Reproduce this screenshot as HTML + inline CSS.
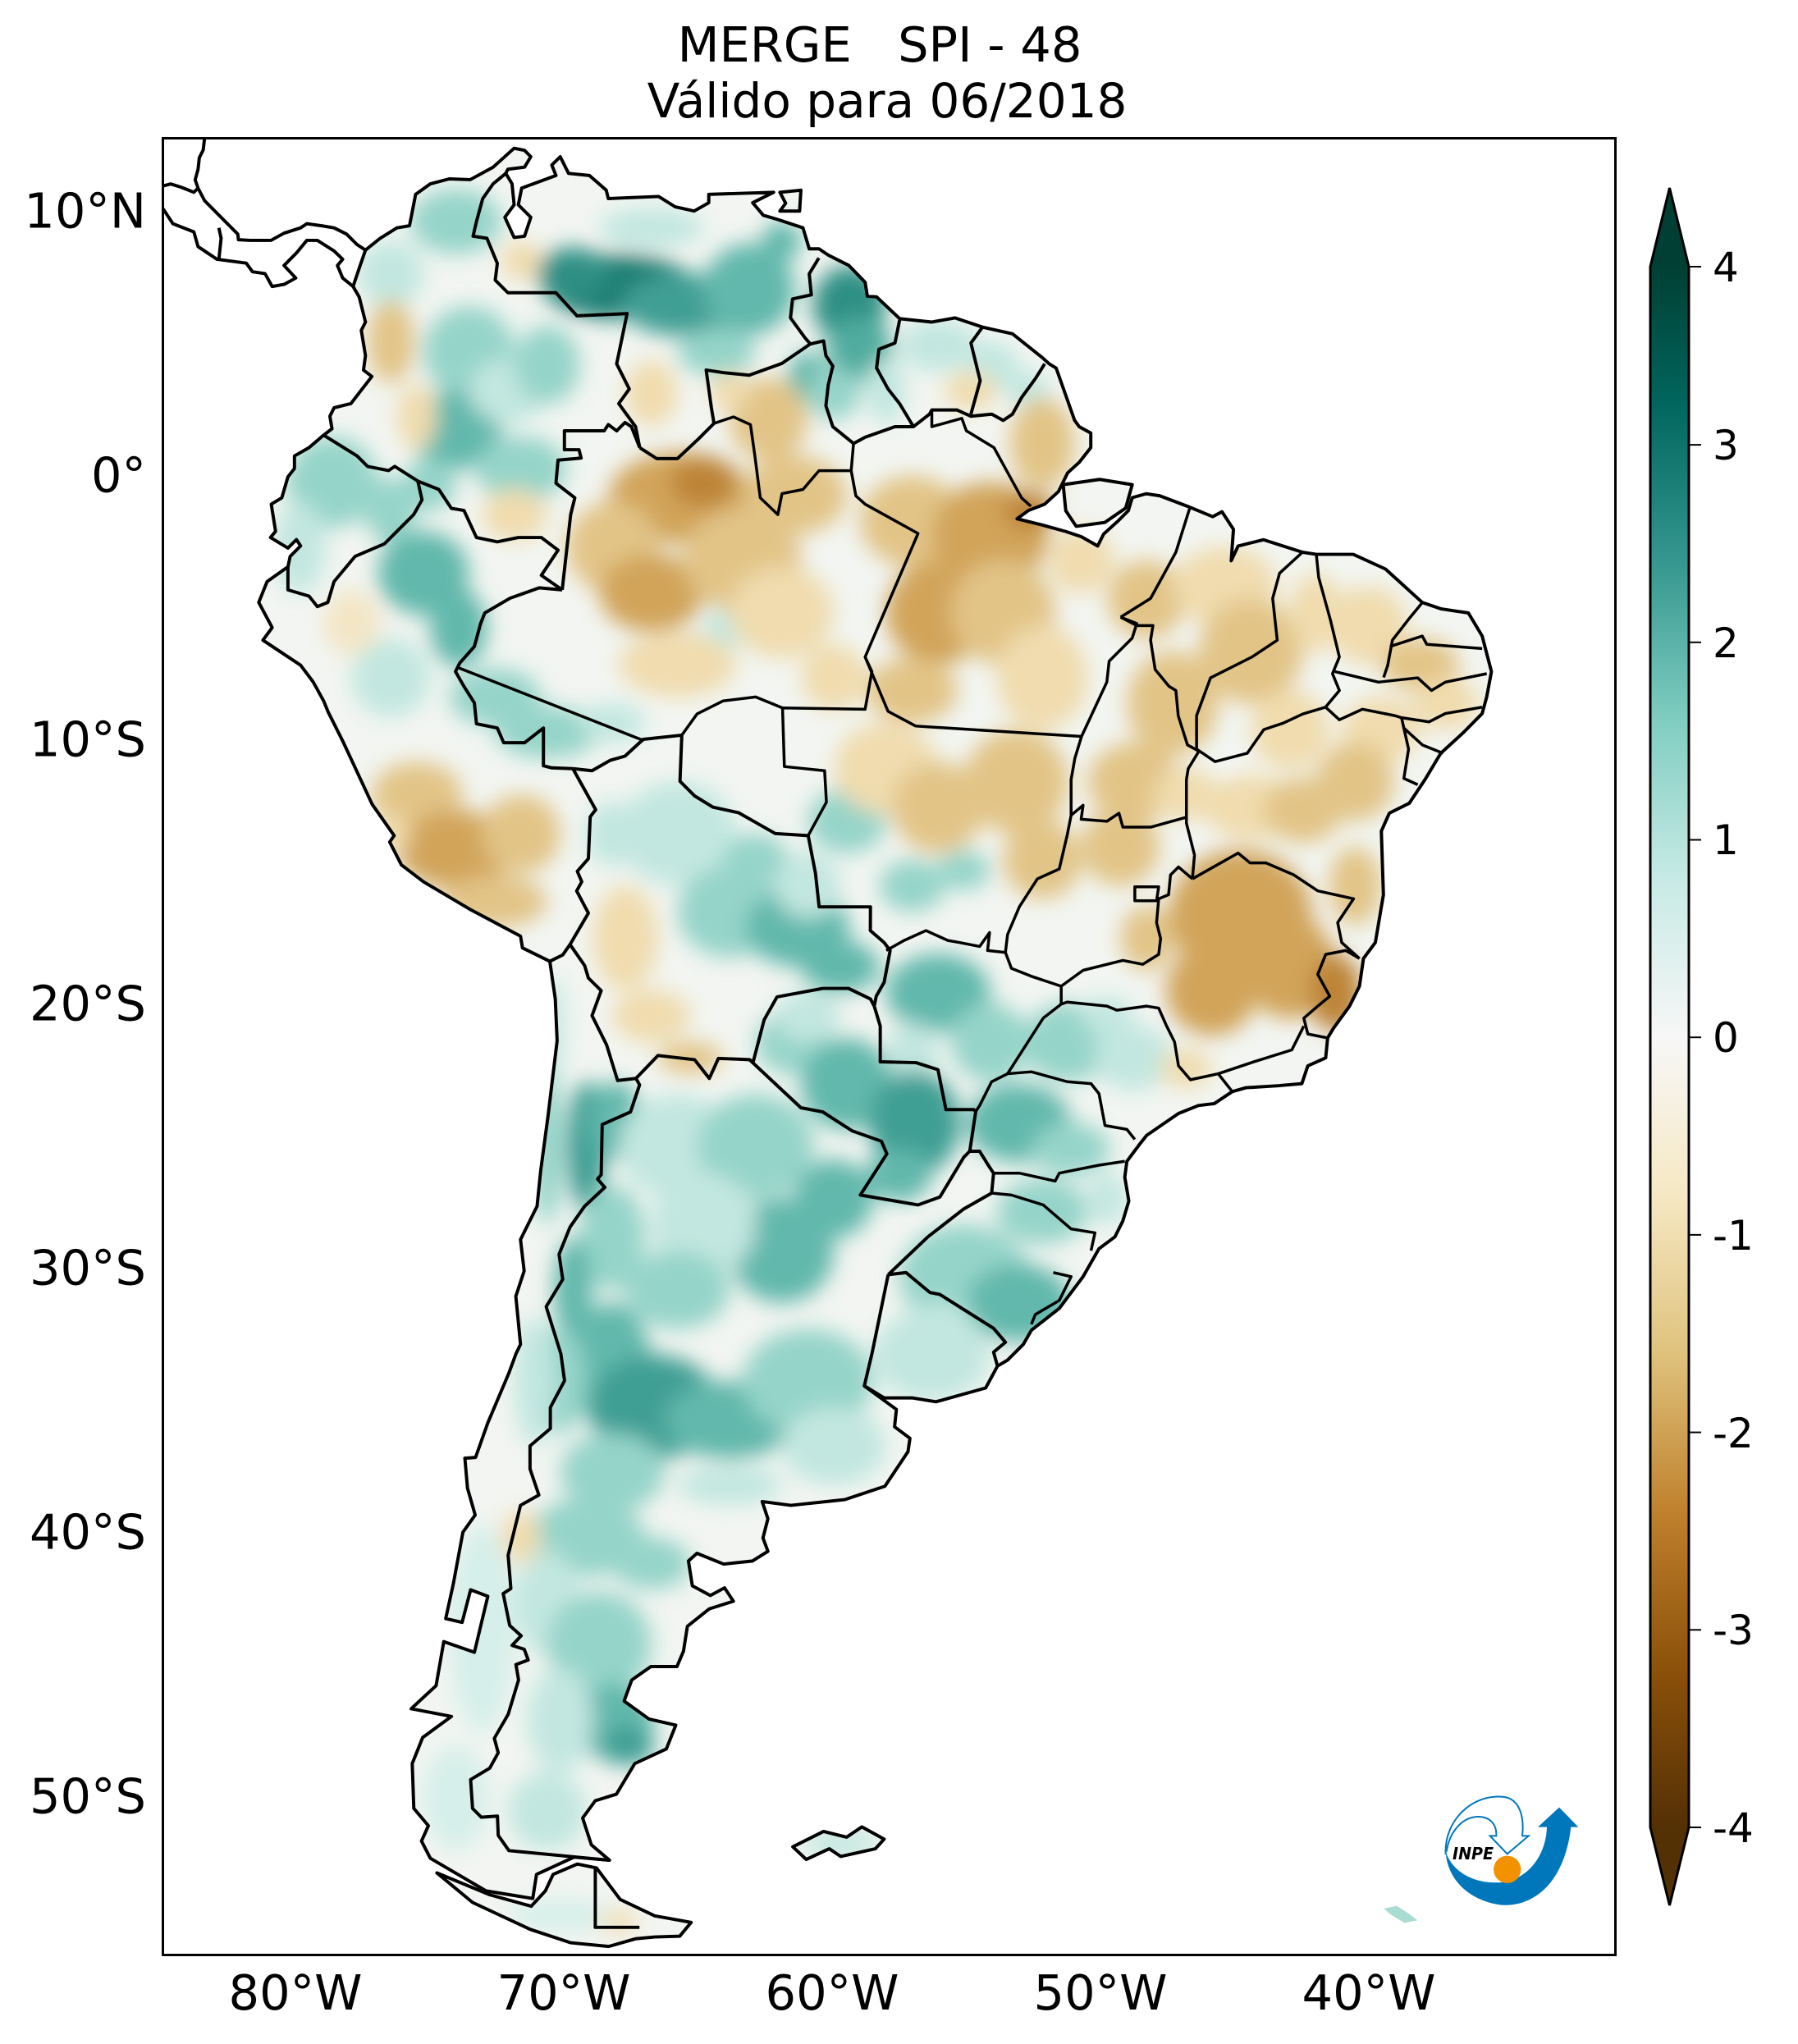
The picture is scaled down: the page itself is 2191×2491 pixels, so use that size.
<!DOCTYPE html>
<html><head><meta charset="utf-8"><style>
html,body{margin:0;padding:0;background:#fff;}
svg{display:block;}
text{font-family:"DejaVu Sans","Liberation Sans",sans-serif;fill:#000;white-space:pre;}
</style></head><body>
<svg width="2191" height="2491" viewBox="0 0 2191 2491" xmlns="http://www.w3.org/2000/svg">
<rect x="0" y="0" width="2191" height="2491" fill="#fff"/>
<defs>
<clipPath id="land"><path d="M280.5,192 L291.8,182.9 304.6,174.9 314.3,173.3 319,149.2 330.3,141.1 344.8,137.3 360.9,137.9 378.5,128.3 394.6,113.8 402.6,115.4 407.4,120.3 402.6,128.3 389.8,129.9 388.2,133.1 393,141.1 394.6,157.2 387.5,166.8 394.6,182.3 402.6,181.3 407.4,166.8 397.8,157.2 400.4,144.4 426.7,134.7 423.5,126.7 430,120.3 436.4,133.1 452.4,134.7 465.3,146 466.9,152.4 505.5,150.8 518.3,158.8 532.8,162 544,155.6 544,149.2 593.8,147.6 577.7,155.6 585.8,165.2 597,168.5 616.3,174.9 621.1,191 628.6,191 635.7,195.8 651.6,203.8 664,216.7 665.7,227.3 672.8,227.9 690.5,244.6 715.2,247.2 732.9,244 754.1,251.1 777.1,256.2 800,274.5 805.3,279.3 810.6,282.5 824.8,322.7 828.3,327.5 837.2,332.4 837.2,343.6 828.3,354.9 819.5,362.9 812.4,377.3 801.8,387 789.4,391.8 780.6,398.2 800,403 818,408 830,412 842.5,419.1 847,410 858,400 866,392 869,382 879.6,379 890.2,380.6 911.4,388.6 930.8,396.6 937.9,392.8 946.7,406.3 945,430.4 950.3,419.1 969.7,414.3 999.7,423.9 1010.3,425.5 1038.6,425.5 1063.4,436.8 1091.7,462.5 1105.8,467.3 1127,470.5 1137.6,488.2 1144.7,515.5 1141.1,534.8 1137.6,547.7 1123.5,562 1105.8,578.2 1093.8,598.3 1081.6,616.6 1066.3,624.2 1060.2,638 1061.8,686.8 1055.6,723.5 1046.5,735.7 1043.4,757 1035.8,772.3 1023.6,789.1 1019,796.7 1017.5,812 1003.8,818.1 999.2,831.8 980.9,833.4 956.4,834.9 945.8,837.9 932,847.1 919.8,848.6 904.5,854.7 880.1,871.5 874,879.2 864.9,891.4 863.3,903.6 866.4,921.9 861.8,937.2 855.7,949.4 843.5,958.5 831.3,979.9 813,1004.3 791.6,1021.1 785.5,1031.8 773.3,1044 765.6,1048.6 756.5,1065.4 718.3,1076 700,1073 678.6,1073 663.4,1063.8 688,1081.9 686.6,1095.2 698.4,1104 696.9,1114.3 679.2,1140.8 648.3,1151.1 607.1,1155.5 585,1152.6 589.4,1165.8 585.6,1180.5 589.4,1190.8 577.6,1198.2 555.5,1200.6 534.9,1192.3 528.4,1198.2 531.4,1217.3 545.2,1224.7 556.1,1218.8 562.9,1229.1 544.3,1235 527.6,1248.3 524.6,1267.4 519.6,1279.2 499.6,1279.2 484.9,1289.5 479,1305.7 498.1,1319.5 518.7,1324.2 511.4,1342.5 487.2,1353.7 473.1,1377.2 456.9,1382.2 447.2,1395.5 453.9,1416.1 467.8,1427.9 440.7,1425.5 411.8,1438.8 408.9,1457.3 373,1451.4 330.3,1426.4 323.5,1413.2 328.8,1401.4 317.6,1388.1 316.4,1353.7 324.4,1333.7 346.5,1317.5 315.6,1311.6 334.7,1293.9 340.6,1260.1 364.1,1268.3 374.4,1225.3 361.2,1220.3 354.7,1245.3 342.1,1242.4 347.9,1215.9 355.3,1176.1 364.7,1162.9 358.8,1142.3 356.8,1119.3 365,1118.7 374.4,1092.2 390.6,1053.9 396,1039.2 399.5,1031.9 395.9,995 402.3,975.6 399.5,951.5 412.2,925.9 415,898.5 420.6,856.8 427.6,798.9 426.2,766.8 422,737.9 401,727.6 399.5,718.6 360.2,697.7 325,676.8 308.1,663.9 299.1,646.3 302.5,641.4 285.6,617.3 262.9,568.5 251.9,546.6 248.4,538 240.4,523.5 230.7,510.6 201.8,491.4 208.9,481.7 198.6,462.4 205,446.4 221,435.1 222.7,427.1 230.7,419 227.5,414.2 221,420.7 207.6,412.6 211.5,407.8 208.2,387 216.3,382.1 221,366 226,359.6 226,350 237.2,343.6 248.4,334 254.8,329.1 253.2,319.5 256.4,313 269.3,309.8 285.4,289 279,284.1 280.5,272.9 277.3,253.6 280.5,247.2 275.7,228 271,219.9 276,205 Z M816,372 L844,368 869,372 864,390 848,401 826,404 818,392 Z M335.3,1437.6 L362.7,1460.3 406.8,1480.9 437.8,1491.2 467.2,1494.1 487.8,1488.2 502.5,1486.8 521.7,1486.2 530.5,1475.6 502.5,1470.6 476,1458 457.8,1433.8 443.1,1430.8 424.5,1438.8 418.6,1451.4 407.7,1463.2 375.9,1454.4 Z M608.5,1417.6 L632.1,1405.8 649.8,1410.2 661.5,1402.3 678.6,1411.7 671.9,1419.1 645.3,1425 636.5,1419.1 618.8,1427.3 Z M598.6,147.6 L614.7,146 613.7,162 598.6,162 603,156 Z"/></clipPath>
<filter id="bl" x="-20%" y="-20%" width="140%" height="140%"><feGaussianBlur stdDeviation="8"/></filter>
<linearGradient id="cb" x1="0" y1="0" x2="0" y2="1">
<stop offset="0" stop-color="#013f33"/>
<stop offset="0.0886" stop-color="#01665e"/>
<stop offset="0.19" stop-color="#35978f"/>
<stop offset="0.291" stop-color="#80cdc1"/>
<stop offset="0.392" stop-color="#c7eae5"/>
<stop offset="0.4937" stop-color="#f7f7f7"/>
<stop offset="0.595" stop-color="#f6e8c3"/>
<stop offset="0.696" stop-color="#dfc27d"/>
<stop offset="0.797" stop-color="#bf812d"/>
<stop offset="0.899" stop-color="#8c510a"/>
<stop offset="1" stop-color="#543005"/>
</linearGradient>
</defs>

<!-- title -->
<text x="1072" y="75" font-size="59" text-anchor="middle">MERGE   SPI - 48</text>
<text x="1081" y="143" font-size="58" text-anchor="middle">Válido para 06/2018</text>

<g transform="scale(1.58768)">
 <g clip-path="url(#land)">
  <rect x="100" y="90" width="1100" height="1420" fill="#f2f5f1"/>
  <g filter="url(#bl)">
   <!-- teal -->
   <ellipse cx="350" cy="170" rx="35" ry="25" fill="#95d4c9"/>
   <ellipse cx="300" cy="210" rx="25" ry="25" fill="#c2e7e0"/>
   <ellipse cx="475" cy="220" rx="58" ry="25" fill="#1b7e73"/>
   <ellipse cx="440" cy="210" rx="28" ry="20" fill="#2f8f84"/>
   <ellipse cx="525" cy="234" rx="48" ry="24" fill="#3f9f94"/>
   <ellipse cx="575" cy="222" rx="35" ry="35" fill="#62b8ac"/>
   <ellipse cx="600" cy="185" rx="15" ry="15" fill="#62b8ac"/>
   <ellipse cx="500" cy="175" rx="40" ry="15" fill="#c2e7e0"/>
   <ellipse cx="550" cy="270" rx="30" ry="18" fill="#95d4c9"/>
   <ellipse cx="360" cy="270" rx="35" ry="35" fill="#95d4c9"/>
   <ellipse cx="350" cy="330" rx="35" ry="30" fill="#62b8ac"/>
   <ellipse cx="390" cy="300" rx="30" ry="25" fill="#c2e7e0"/>
   <ellipse cx="420" cy="280" rx="25" ry="30" fill="#95d4c9"/>
   <ellipse cx="400" cy="360" rx="35" ry="25" fill="#95d4c9"/>
   <ellipse cx="330" cy="372" rx="20" ry="20" fill="#95d4c9"/>
   <ellipse cx="255" cy="370" rx="35" ry="35" fill="#95d4c9"/>
   <ellipse cx="230" cy="420" rx="20" ry="35" fill="#c2e7e0"/>
   <ellipse cx="300" cy="392" rx="20" ry="25" fill="#95d4c9"/>
   <ellipse cx="325" cy="440" rx="35" ry="32" fill="#62b8ac"/>
   <ellipse cx="352" cy="482" rx="22" ry="30" fill="#62b8ac"/>
   <ellipse cx="300" cy="520" rx="30" ry="30" fill="#c2e7e0"/>
   <ellipse cx="380" cy="535" rx="35" ry="22" fill="#95d4c9"/>
   <ellipse cx="420" cy="562" rx="40" ry="20" fill="#95d4c9"/>
   <ellipse cx="470" cy="555" rx="25" ry="15" fill="#c2e7e0"/>
   <ellipse cx="620" cy="290" rx="15" ry="20" fill="#62b8ac"/>
   <ellipse cx="652" cy="234" rx="28" ry="30" fill="#2f8f84"/>
   <ellipse cx="660" cy="268" rx="25" ry="25" fill="#4fac9f"/>
   <ellipse cx="640" cy="302" rx="20" ry="20" fill="#95d4c9"/>
   <ellipse cx="680" cy="300" rx="15" ry="25" fill="#c2e7e0"/>
   <ellipse cx="720" cy="265" rx="30" ry="20" fill="#c2e7e0"/>
   <ellipse cx="762" cy="282" rx="20" ry="20" fill="#c2e7e0"/>
   <ellipse cx="790" cy="300" rx="15" ry="15" fill="#c2e7e0"/>
   <ellipse cx="560" cy="482" rx="20" ry="15" fill="#c2e7e0"/>
   <ellipse cx="520" cy="640" rx="45" ry="40" fill="#c2e7e0"/>
   <ellipse cx="560" cy="700" rx="40" ry="35" fill="#95d4c9"/>
   <ellipse cx="612" cy="712" rx="40" ry="30" fill="#62b8ac"/>
   <ellipse cx="645" cy="742" rx="30" ry="20" fill="#62b8ac"/>
   <ellipse cx="580" cy="660" rx="25" ry="20" fill="#95d4c9"/>
   <ellipse cx="470" cy="640" rx="20" ry="25" fill="#c2e7e0"/>
   <ellipse cx="650" cy="630" rx="30" ry="25" fill="#95d4c9"/>
   <ellipse cx="700" cy="680" rx="25" ry="20" fill="#95d4c9"/>
   <ellipse cx="740" cy="668" rx="20" ry="15" fill="#95d4c9"/>
   <ellipse cx="620" cy="680" rx="25" ry="25" fill="#c2e7e0"/>
   <ellipse cx="720" cy="762" rx="40" ry="30" fill="#62b8ac"/>
   <ellipse cx="760" cy="800" rx="30" ry="30" fill="#95d4c9"/>
   <ellipse cx="700" cy="810" rx="20" ry="25" fill="#c2e7e0"/>
   <ellipse cx="820" cy="800" rx="35" ry="30" fill="#95d4c9"/>
   <ellipse cx="870" cy="812" rx="30" ry="25" fill="#c2e7e0"/>
   <ellipse cx="850" cy="780" rx="20" ry="15" fill="#c2e7e0"/>
   <ellipse cx="610" cy="800" rx="30" ry="25" fill="#95d4c9"/>
   <ellipse cx="650" cy="832" rx="35" ry="35" fill="#62b8ac"/>
   <ellipse cx="702" cy="862" rx="35" ry="40" fill="#3f9f94"/>
   <ellipse cx="690" cy="902" rx="25" ry="20" fill="#62b8ac"/>
   <ellipse cx="620" cy="780" rx="25" ry="20" fill="#c2e7e0"/>
   <ellipse cx="782" cy="862" rx="40" ry="30" fill="#62b8ac"/>
   <ellipse cx="822" cy="882" rx="30" ry="20" fill="#95d4c9"/>
   <ellipse cx="800" cy="930" rx="35" ry="25" fill="#95d4c9"/>
   <ellipse cx="850" cy="920" rx="15" ry="20" fill="#c2e7e0"/>
   <ellipse cx="740" cy="980" rx="50" ry="40" fill="#95d4c9"/>
   <ellipse cx="782" cy="1000" rx="40" ry="30" fill="#62b8ac"/>
   <ellipse cx="720" cy="1020" rx="30" ry="20" fill="#c2e7e0"/>
   <ellipse cx="715" cy="1040" rx="45" ry="35" fill="#c2e7e0"/>
   <ellipse cx="450" cy="880" rx="15" ry="50" fill="#3f9f94"/>
   <ellipse cx="472" cy="860" rx="20" ry="30" fill="#62b8ac"/>
   <ellipse cx="520" cy="880" rx="45" ry="40" fill="#c2e7e0"/>
   <ellipse cx="580" cy="880" rx="45" ry="40" fill="#95d4c9"/>
   <ellipse cx="640" cy="920" rx="30" ry="30" fill="#62b8ac"/>
   <ellipse cx="600" cy="960" rx="40" ry="40" fill="#62b8ac"/>
   <ellipse cx="540" cy="940" rx="40" ry="40" fill="#c2e7e0"/>
   <ellipse cx="520" cy="990" rx="40" ry="30" fill="#95d4c9"/>
   <ellipse cx="470" cy="950" rx="25" ry="40" fill="#95d4c9"/>
   <ellipse cx="440" cy="990" rx="15" ry="40" fill="#62b8ac"/>
   <ellipse cx="425" cy="790" rx="8" ry="40" fill="#c2e7e0"/>
   <ellipse cx="420" cy="880" rx="12" ry="60" fill="#95d4c9"/>
   <ellipse cx="470" cy="1050" rx="30" ry="50" fill="#62b8ac"/>
   <ellipse cx="502" cy="1080" rx="50" ry="40" fill="#3f9f94"/>
   <ellipse cx="560" cy="1090" rx="50" ry="30" fill="#62b8ac"/>
   <ellipse cx="620" cy="1060" rx="50" ry="40" fill="#95d4c9"/>
   <ellipse cx="640" cy="1110" rx="40" ry="30" fill="#c2e7e0"/>
   <ellipse cx="430" cy="1060" rx="20" ry="40" fill="#95d4c9"/>
   <ellipse cx="470" cy="1130" rx="40" ry="30" fill="#95d4c9"/>
   <ellipse cx="560" cy="1140" rx="40" ry="15" fill="#c2e7e0"/>
   <ellipse cx="410" cy="1060" rx="15" ry="50" fill="#c2e7e0"/>
   <ellipse cx="450" cy="1180" rx="45" ry="30" fill="#95d4c9"/>
   <ellipse cx="500" cy="1200" rx="30" ry="20" fill="#95d4c9"/>
   <ellipse cx="420" cy="1230" rx="25" ry="40" fill="#c2e7e0"/>
   <ellipse cx="460" cy="1262" rx="40" ry="40" fill="#95d4c9"/>
   <ellipse cx="472" cy="1322" rx="30" ry="30" fill="#62b8ac"/>
   <ellipse cx="482" cy="1340" rx="20" ry="15" fill="#3f9f94"/>
   <ellipse cx="430" cy="1320" rx="25" ry="40" fill="#c2e7e0"/>
   <ellipse cx="420" cy="1390" rx="30" ry="30" fill="#c2e7e0"/>
   <ellipse cx="370" cy="1250" rx="25" ry="80" fill="#d6efea"/>
   <ellipse cx="350" cy="1380" rx="25" ry="40" fill="#d6efea"/>
   <ellipse cx="430" cy="1470" rx="40" ry="12" fill="#d6efea"/>
   <ellipse cx="645" cy="1415" rx="30" ry="10" fill="#c2e7e0"/>
   <!-- brown -->
   <ellipse cx="500" cy="302" rx="20" ry="25" fill="#f0dcae"/>
   <ellipse cx="300" cy="262" rx="18" ry="32" fill="#e2c487"/>
   <ellipse cx="320" cy="320" rx="15" ry="25" fill="#f0dcae"/>
   <ellipse cx="395" cy="395" rx="25" ry="20" fill="#f0dcae"/>
   <ellipse cx="400" cy="200" rx="15" ry="15" fill="#f0dcae"/>
   <ellipse cx="270" cy="478" rx="22" ry="25" fill="#f3e6c6"/>
   <ellipse cx="320" cy="610" rx="35" ry="25" fill="#e2c487"/>
   <ellipse cx="350" cy="652" rx="45" ry="30" fill="#d1a45a"/>
   <ellipse cx="400" cy="640" rx="30" ry="30" fill="#e2c487"/>
   <ellipse cx="380" cy="692" rx="40" ry="20" fill="#e2c487"/>
   <ellipse cx="300" cy="640" rx="15" ry="15" fill="#f0dcae"/>
   <ellipse cx="522" cy="382" rx="55" ry="35" fill="#d1a45a"/>
   <ellipse cx="540" cy="370" rx="25" ry="20" fill="#bd8438"/>
   <ellipse cx="470" cy="420" rx="35" ry="35" fill="#e2c487"/>
   <ellipse cx="500" cy="455" rx="40" ry="30" fill="#d1a45a"/>
   <ellipse cx="570" cy="430" rx="45" ry="40" fill="#e2c487"/>
   <ellipse cx="610" cy="380" rx="40" ry="30" fill="#e2c487"/>
   <ellipse cx="600" cy="470" rx="40" ry="35" fill="#f0dcae"/>
   <ellipse cx="520" cy="510" rx="45" ry="25" fill="#f0dcae"/>
   <ellipse cx="640" cy="520" rx="25" ry="25" fill="#f0dcae"/>
   <ellipse cx="590" cy="322" rx="30" ry="32" fill="#e2c487"/>
   <ellipse cx="560" cy="300" rx="15" ry="15" fill="#f0dcae"/>
   <ellipse cx="745" cy="300" rx="20" ry="15" fill="#f0dcae"/>
   <ellipse cx="800" cy="340" rx="25" ry="35" fill="#e2c487"/>
   <ellipse cx="700" cy="400" rx="40" ry="35" fill="#e2c487"/>
   <ellipse cx="760" cy="410" rx="45" ry="40" fill="#d1a45a"/>
   <ellipse cx="790" cy="392" rx="20" ry="15" fill="#bd8438"/>
   <ellipse cx="720" cy="470" rx="40" ry="40" fill="#d1a45a"/>
   <ellipse cx="770" cy="470" rx="40" ry="40" fill="#e2c487"/>
   <ellipse cx="700" cy="530" rx="35" ry="25" fill="#e2c487"/>
   <ellipse cx="800" cy="520" rx="35" ry="40" fill="#f0dcae"/>
   <ellipse cx="830" cy="430" rx="25" ry="25" fill="#f0dcae"/>
   <ellipse cx="880" cy="460" rx="30" ry="30" fill="#e2c487"/>
   <ellipse cx="940" cy="450" rx="40" ry="30" fill="#f0dcae"/>
   <ellipse cx="960" cy="500" rx="40" ry="40" fill="#e2c487"/>
   <ellipse cx="900" cy="540" rx="35" ry="40" fill="#e2c487"/>
   <ellipse cx="870" cy="600" rx="35" ry="30" fill="#e2c487"/>
   <ellipse cx="990" cy="560" rx="30" ry="30" fill="#f0dcae"/>
   <ellipse cx="1010" cy="470" rx="20" ry="30" fill="#f0dcae"/>
   <ellipse cx="1050" cy="480" rx="30" ry="30" fill="#f0dcae"/>
   <ellipse cx="1090" cy="510" rx="30" ry="20" fill="#e2c487"/>
   <ellipse cx="1110" cy="540" rx="25" ry="20" fill="#f0dcae"/>
   <ellipse cx="1060" cy="560" rx="30" ry="25" fill="#f0dcae"/>
   <ellipse cx="1040" cy="600" rx="30" ry="30" fill="#e2c487"/>
   <ellipse cx="680" cy="590" rx="40" ry="35" fill="#f0dcae"/>
   <ellipse cx="720" cy="620" rx="35" ry="35" fill="#e2c487"/>
   <ellipse cx="780" cy="600" rx="40" ry="40" fill="#e2c487"/>
   <ellipse cx="800" cy="660" rx="30" ry="30" fill="#e2c487"/>
   <ellipse cx="480" cy="720" rx="25" ry="40" fill="#f0dcae"/>
   <ellipse cx="500" cy="780" rx="30" ry="20" fill="#f0dcae"/>
   <ellipse cx="530" cy="812" rx="25" ry="12" fill="#e2c487"/>
   <ellipse cx="860" cy="650" rx="30" ry="30" fill="#e2c487"/>
   <ellipse cx="952" cy="702" rx="55" ry="50" fill="#d1a45a"/>
   <ellipse cx="930" cy="760" rx="35" ry="35" fill="#d1a45a"/>
   <ellipse cx="990" cy="742" rx="35" ry="40" fill="#d1a45a"/>
   <ellipse cx="1025" cy="762" rx="20" ry="30" fill="#bd8438"/>
   <ellipse cx="1040" cy="680" rx="20" ry="30" fill="#e2c487"/>
   <ellipse cx="880" cy="720" rx="20" ry="25" fill="#e2c487"/>
   <ellipse cx="910" cy="610" rx="25" ry="20" fill="#f0dcae"/>
   <ellipse cx="960" cy="620" rx="35" ry="25" fill="#f0dcae"/>
   <ellipse cx="1000" cy="622" rx="30" ry="25" fill="#e2c487"/>
   <ellipse cx="910" cy="820" rx="20" ry="15" fill="#f0dcae"/>
   <ellipse cx="400" cy="1180" rx="15" ry="20" fill="#f0dcae"/>
   <ellipse cx="475" cy="1475" rx="15" ry="8" fill="#f0dcae"/>
  </g>
 </g>
 <!-- coastline & country borders -->
 <g fill="none" stroke="#000" stroke-width="2.5" stroke-linejoin="round">
  <path d="M280.5,192 L291.8,182.9 304.6,174.9 314.3,173.3 319,149.2 330.3,141.1 344.8,137.3 360.9,137.9 378.5,128.3 394.6,113.8 402.6,115.4 407.4,120.3 402.6,128.3 389.8,129.9 388.2,133.1 393,141.1 394.6,157.2 387.5,166.8 394.6,182.3 402.6,181.3 407.4,166.8 397.8,157.2 400.4,144.4 426.7,134.7 423.5,126.7 430,120.3 436.4,133.1 452.4,134.7 465.3,146 466.9,152.4 505.5,150.8 518.3,158.8 532.8,162 544,155.6 544,149.2 593.8,147.6 577.7,155.6 585.8,165.2 597,168.5 616.3,174.9 621.1,191 628.6,191 635.7,195.8 651.6,203.8 664,216.7 665.7,227.3 672.8,227.9 690.5,244.6 715.2,247.2 732.9,244 754.1,251.1 777.1,256.2 800,274.5 805.3,279.3 810.6,282.5 824.8,322.7 828.3,327.5 837.2,332.4 837.2,343.6 828.3,354.9 819.5,362.9 812.4,377.3 801.8,387 789.4,391.8 780.6,398.2 800,403 818,408 830,412 842.5,419.1 847,410 858,400 866,392 869,382 879.6,379 890.2,380.6 911.4,388.6 930.8,396.6 937.9,392.8 946.7,406.3 945,430.4 950.3,419.1 969.7,414.3 999.7,423.9 1010.3,425.5 1038.6,425.5 1063.4,436.8 1091.7,462.5 1105.8,467.3 1127,470.5 1137.6,488.2 1144.7,515.5 1141.1,534.8 1137.6,547.7 1123.5,562 1105.8,578.2 1093.8,598.3 1081.6,616.6 1066.3,624.2 1060.2,638 1061.8,686.8 1055.6,723.5 1046.5,735.7 1043.4,757 1035.8,772.3 1023.6,789.1 1019,796.7 1017.5,812 1003.8,818.1 999.2,831.8 980.9,833.4 956.4,834.9 945.8,837.9 932,847.1 919.8,848.6 904.5,854.7 880.1,871.5 874,879.2 864.9,891.4 863.3,903.6 866.4,921.9 861.8,937.2 855.7,949.4 843.5,958.5 831.3,979.9 813,1004.3 791.6,1021.1 785.5,1031.8 773.3,1044 765.6,1048.6 756.5,1065.4 718.3,1076 700,1073 678.6,1073 663.4,1063.8 688,1081.9 686.6,1095.2 698.4,1104 696.9,1114.3 679.2,1140.8 648.3,1151.1 607.1,1155.5 585,1152.6 589.4,1165.8 585.6,1180.5 589.4,1190.8 577.6,1198.2 555.5,1200.6 534.9,1192.3 528.4,1198.2 531.4,1217.3 545.2,1224.7 556.1,1218.8 562.9,1229.1 544.3,1235 527.6,1248.3 524.6,1267.4 519.6,1279.2 499.6,1279.2 484.9,1289.5 479,1305.7 498.1,1319.5 518.7,1324.2 511.4,1342.5 487.2,1353.7 473.1,1377.2 456.9,1382.2 447.2,1395.5 453.9,1416.1 467.8,1427.9 440.7,1425.5 411.8,1438.8 408.9,1457.3 373,1451.4 330.3,1426.4 323.5,1413.2 328.8,1401.4 317.6,1388.1 316.4,1353.7 324.4,1333.7 346.5,1317.5 315.6,1311.6 334.7,1293.9 340.6,1260.1 364.1,1268.3 374.4,1225.3 361.2,1220.3 354.7,1245.3 342.1,1242.4 347.9,1215.9 355.3,1176.1 364.7,1162.9 358.8,1142.3 356.8,1119.3 365,1118.7 374.4,1092.2 390.6,1053.9 396,1039.2 399.5,1031.9 395.9,995 402.3,975.6 399.5,951.5 412.2,925.9 415,898.5 420.6,856.8 427.6,798.9 426.2,766.8 422,737.9 401,727.6 399.5,718.6 360.2,697.7 325,676.8 308.1,663.9 299.1,646.3 302.5,641.4 285.6,617.3 262.9,568.5 251.9,546.6 248.4,538 240.4,523.5 230.7,510.6 201.8,491.4 208.9,481.7 198.6,462.4 205,446.4 221,435.1 222.7,427.1 230.7,419 227.5,414.2 221,420.7 207.6,412.6 211.5,407.8 208.2,387 216.3,382.1 221,366 226,359.6 226,350 237.2,343.6 248.4,334 254.8,329.1 253.2,319.5 256.4,313 269.3,309.8 285.4,289 279,284.1 280.5,272.9 277.3,253.6 280.5,247.2 275.7,228 271,219.9"/>
  <path d="M816,372 L844,368 869,372 864,390 848,401 826,404 818,392 Z"/>
  <path d="M335.3,1437.6 L362.7,1460.3 406.8,1480.9 437.8,1491.2 467.2,1494.1 487.8,1488.2 502.5,1486.8 521.7,1486.2 530.5,1475.6 502.5,1470.6 476,1458 457.8,1433.8 443.1,1430.8 424.5,1438.8 418.6,1451.4 407.7,1463.2 375.9,1454.4 Z"/>
  <path d="M608.5,1417.6 L632.1,1405.8 649.8,1410.2 661.5,1402.3 678.6,1411.7 671.9,1419.1 645.3,1425 636.5,1419.1 618.8,1427.3 Z"/>
  <path d="M598.6,147.6 L614.7,146 613.7,162 598.6,162 603,156 Z"/>
  <path d="M157,106 L156,115 153,121 152,130 149.8,138 152,144.4 157,154 166.5,163.6 182.5,179.7 183,184 192,184.5 208,184.5 218,179 230.7,174.9 235.5,171.7 246.8,173.3 256.4,174.9 266,179.7 274,187.7 280.5,192"/>
  <path d="M125,160 L126.3,162 132.7,171.7 148.8,178 152,189.3 166.5,199 189,202 193.8,208.6 203.4,210 208.9,219.9 218,218.3 227,213.4 218,203.8 227.5,194.2 235.5,184.5 243.6,184.5 256.4,192.6 263,199 259,203.8 263,213.4 271,219.9"/>
  <path d="M125,142.8 L131,141.2 139,143.7 148.8,147.6 152,144.4"/>
  <path d="M168,174.9 L169.7,182.9 168,199"/>
  <path d="M280.5,192 L276,205 271,219.9"/>
  <path d="M388.2,133.1 L378.5,141.1 370.5,152.4 365.7,170 363.1,181.3 373.7,182.9 381.7,202.2 380.1,215 389.8,224.7 426.7,224.7 442.8,242.4 481.3,240.7 473.3,279.3 483,298.6 474.9,309.8 487.8,327.5 491,343.6"/>
  <path d="M491,343.6 L504,352 520,352 536,337 548,325 546,313 542,284 555,286 575,288 600,279 622,264"/>
  <path d="M628.5,198 L621.1,210.2 622.7,226.3 608.3,229.5 606.7,244 617.9,259.4 622,264"/>
  <path d="M622,264 L632.1,261.7 633.9,272.9 639.2,281 635.7,295.4 633.9,311.5 639.2,327.5 655.1,340.4 664,335.6 686.9,327.5 701.1,327.5 713.4,317.9 715.2,314.7 734.6,314.7 745.2,319.5 761.2,317.9 770,322.7 777.1,317.9 784.1,305.1 794.7,290.6 801.8,279.3"/>
  <path d="M690.5,245.6 L686.9,263.3 674.6,268.1 672.8,282.5 681.6,298.6 690.5,309.9 701.1,327.5"/>
  <path d="M754.1,251.1 L745.2,263.3 752.3,292.2 745.2,317.9"/>
  <path d="M248.4,334 L274.1,350 282.1,358 298.2,361.2 303,358 320.7,369.3"/>
  <path d="M320.7,369.3 L323.9,383.7 317.5,395 295,417.5 272.5,427.1 256.4,446.4 251.6,462.4 243.6,465.6 237.2,457.6 221,452.8 221,435.1"/>
  <path d="M320.7,369.3 L336.8,375.7 346.4,390.2 356.1,391.8 365.7,412.6 381.7,415.9 397.8,412.6 415.5,412.6 428.3,422.3 415.5,441.6 431.5,452.8"/>
  <path d="M431.5,452.8 L438,395 441.2,382.1 426.7,370.9 428.3,353.2 446,351.6 444.4,345.2 433.2,345.2 433.2,330.7 463.7,330.7 466.9,325.9 473.3,330.7 479.7,324.3 484.6,327.5 491,343.6"/>
  <path d="M431.5,452.8 L413.9,451.2 391.4,459.2 372.1,470.5 368.9,478.5 364.1,496.2 352.8,509 349.6,515.5 356,526.7 364.1,539.6 365.7,555.6 381.7,558.8 386.6,570.1 402.6,570.1 417.1,558.8 417.1,587.8 423.5,589.4 439.7,590"/>
  <path d="M439.7,590 L454.4,591.6 468.4,583.6 479.7,580.4 493.7,567.5 523.3,564.3 521.9,599.7 533.1,610.9 547.2,619.6 566.8,623.8 578.1,630.2 595,639.8 620.3,641.4 625.9,670.4 628.7,696.1 668.1,696.1 668,714.3 678.6,723.5 683.2,729.6 678.6,754 672.5,764.7 671,772.3"/>
  <path d="M439.7,590 L457.2,621.5 453,627 451.6,659.1 443.1,668.8 446.5,676.8 442.6,683.9 451.6,700.9 437.5,725"/>
  <path d="M422,737.9 L431.9,733 437.5,725 448.7,741.1 451.6,750.7 461.4,760.4 454.4,779.6 465.6,802.1 474,829.4 488.1,827.8"/>
  <path d="M488.1,827.8 L490.9,832.7 483.9,853.5 462.2,863.2 461.4,901.7 458.6,905 464.2,911.4 448.7,925.9 437.5,941.9 429.1,962.8 431.9,982.1 419.2,1003 430.5,1039.3 433.3,1059.8 422.4,1080.4 422.4,1096.6 406.8,1109.9 406.8,1127.5 413.6,1147.6 399.5,1155.5 390,1193.8 392.1,1219.4 386.2,1223.2 391.2,1247.7 400,1255.6 393,1263 402.4,1266 405.4,1274.2 396,1277.7 398,1289.5 390,1316 379.4,1334.3 382.4,1345.4 375.9,1357.2 361.2,1366 362.7,1388.1 369.4,1394.9 381.8,1394 382.4,1408.8 390.6,1420.5 467.8,1427.9"/>
  <path d="M488.1,827.8 L505,810.2 533.1,813.4 544.4,827.8 551.4,812.4 575.3,813.4 578.1,815"/>
  <path d="M578.1,815 L586.5,782.8 596.4,765.2 631.5,758.7 651.2,758.7 668.1,766.8 671,772.3"/>
  <path d="M575.3,813.4 L614.7,850.3 631.5,853.5 654,868 676.5,876 680.7,885.7 660.3,917.3 704.6,924.9 721.4,918.8 739.7,888.3 744.3,883.7"/>
  <path d="M671,772.3 L675.6,787.6 675.6,815 703.1,815.7 719.9,821.1 726,851.7 747.3,851.7 748.9,853.2 744.3,883.7"/>
  <path d="M744.3,883.7 L751.9,883.7 759.5,895.9 762.6,900.5 761.1,915.8 739.7,928 712.2,949.4 681.7,978.4"/>
  <path d="M681.7,978.4 L695.4,976.8 713.7,992.1 721.4,993.6 762.6,1019.6 771.7,1030.3 762.6,1037.9 765.6,1048.6"/>
  <path d="M681.7,978.4 L669.5,1037.9 663.4,1063.8"/>
  <path d="M456.9,1433.8 L456.9,1479.4 490.8,1479.4"/>
 </g>
 <!-- state borders -->
 <g fill="none" stroke="#000" stroke-width="2.2" stroke-linejoin="round">
  <path d="M351.2,512.3 L494.2,568.5"/>
  <path d="M548,325 L563,320 576,326 579.4,350 583.5,382.1 597,395 600.2,378.9 616.3,375.7 628.6,361.3 653.3,361.3 655.1,340.4"/>
  <path d="M653.3,361.3 L656.9,380.6 664,387 704.6,409.5 664,504.3 669.2,515.5 664,544.4 600.6,543.4 602,588.4 632.9,591.6 634.3,615.7 620.3,641.4"/>
  <path d="M523.3,564.3 L535,548 555,538 580,535 600.6,543.4"/>
  <path d="M664,504.3 L681.6,546 702.8,557.3 830.1,565.3"/>
  <path d="M715.2,314.7 L715.2,327.5 738.2,321.1 741.7,330.7 762.9,343.6 773.5,362.9 784.1,382.2 791.2,388.6"/>
  <path d="M913.1,390.2 L902.5,423.9 890.2,446.4 883.1,459.3 860.1,473.7"/>
  <path d="M860.1,473.7 L872.5,478.6 869,489.8 851.3,507.5 849.5,523.6 830.1,565.3"/>
  <path d="M860.1,473.7 L872.5,480.2 884.9,480.2 883.1,491.4 886.6,513.9 897.2,526.8 902.5,530 904.3,549.3 911.4,571.8 920.2,576.6"/>
  <path d="M999.7,423.9 L982.1,440 976.8,459.3 980.3,491.4 960.9,504.3 929.1,520.3 918.4,549.3 918.4,575 920.2,576.6"/>
  <path d="M918.4,575 L932.6,584.6 957.3,578.2 970,560 985,555 1000,548 1017.4,542.8"/>
  <path d="M1010.3,425.5 L1012.1,443.2 1021,475.4 1028,504.3 1022.7,517.1 1028,530 1017.4,542.8"/>
  <path d="M1091.7,462.5 L1081.1,475.4 1068.7,491.4 1065.1,510.7 1062,520"/>
  <path d="M1067,496.2 L1091.6,488.2 1095.1,494.6 1137.6,497.8"/>
  <path d="M1024.5,515.5 L1058,523.6 1088.1,520.3 1098.7,530 1109.3,523.6 1141.1,517.1"/>
  <path d="M1075.7,550.9 L1096.9,554.1 1109.3,547.7 1137.6,542.8"/>
  <path d="M1017.4,542.8 L1028,552.5 1045.7,544.4 1070.5,549.3 1075.7,550.9 1077.5,558.9 1081.1,575 1077.5,597.5 1088.1,602.3"/>
  <path d="M1077.5,558.9 L1091.7,571.8 1107.6,578.2"/>
  <path d="M920.2,576.6 L912,590 910.6,598.3 910.6,631.9 916.8,656.3 915.2,674.6"/>
  <path d="M830.1,565.3 L825,582 822.1,598.3 822.1,625.8 819.1,641 813,667 796.2,674.6 782.4,696 773.3,717.4 771.7,731.1"/>
  <path d="M822.1,625.8 L831.3,618.1 829.8,628.8 849.6,630.4 858.8,624.2 861.8,634.9 883.2,634.9 910.6,627.3"/>
  <path d="M915.2,674.6 L950.3,654.8 959.5,662.4 971.7,662.4 993.1,671.6 1011.4,683.8 1038.9,689.9 1026.7,708.2 1029.8,723.5 1043.4,735.7"/>
  <path d="M915.2,674.6 L904.5,665.5 898.4,671.6 896.9,686.8 889.3,689.9 887.7,708.2 890.8,720.4 889.3,732.6 877.1,740.2 861.8,737.2 831.3,744.8 814.5,757"/>
  <path d="M871,680.7 L889.3,680.7 887.7,691.4 871,691.4 Z"/>
  <path d="M680.2,729.6 L693.9,721.9 710.7,714.3 727.5,721.9 736.6,723.5 751.9,726.5 759.5,715.8 758,729.6 771.7,731.1"/>
  <path d="M771.7,731.1 L776.3,743.3 791.6,749.4 814.5,757 814.5,770.8 800.7,781.5 773.3,824.2 761.1,830.3 751.9,848.6 748.9,853.2"/>
  <path d="M1043.4,735.7 L1032.8,729.6 1017.5,732.6 1011.4,747.9 1020.6,764.7 1011.4,772.3 1000.7,781.5 1003.8,793.7 1019,796.7"/>
  <path d="M1000.7,787.6 L991.5,805.9 962.5,815 935,824.2 913.7,828.8 904.5,818.1 901.5,799.8 895.4,787.6 889.3,773.8 880.1,772.3 857.2,775.4 849.6,772.3 819.1,769.2 814.5,770.8"/>
  <path d="M935,824.2 L945.8,837.9"/>
  <path d="M773.3,824.2 L791.6,822.7 819.1,830.3 837.4,831.8 843.5,839.5 848.1,863.9 864.9,866.9 871,874.6"/>
  <path d="M762.6,900.5 L782.4,900.5 809.9,906.6 813,900.5 843.5,894.4 863.3,891.4"/>
  <path d="M761.1,915.8 L776.3,917.3 800.7,924.9 822.1,943.3 840.4,946.3 837.4,960"/>
  <path d="M808.4,976.8 L822.1,979.9 813,998.2 794.6,1009 791.6,1016.5"/>
 </g>
 <path d="M1062,1465 L1072,1463 1080,1468 1088,1474 1078,1476 1068,1470 Z" fill="#a9dcd2"/>
</g>

<!-- axes frame -->
<rect x="198.5" y="168.5" width="1770" height="2214" fill="none" stroke="#000" stroke-width="3"/>

<!-- lat labels -->
<g font-size="59" text-anchor="end">
<text x="178" y="277.5">10°N</text>
<text x="178" y="599.5">0°</text>
<text x="178" y="921.5">10°S</text>
<text x="178" y="1243.5">20°S</text>
<text x="178" y="1565.5">30°S</text>
<text x="178" y="1887.5">40°S</text>
<text x="178" y="2209.5">50°S</text>
</g>
<!-- lon labels -->
<g font-size="59" text-anchor="middle">
<text x="360" y="2449">80°W</text>
<text x="687" y="2449">70°W</text>
<text x="1014" y="2449">60°W</text>
<text x="1341" y="2449">50°W</text>
<text x="1668" y="2449">40°W</text>
</g>

<!-- INPE logo -->
<g transform="translate(1720,2150) scale(0.33333)">
 <path d="M125,320 C130,420 210,500 330,515 C450,522 560,430 583,230 L610,230 L540,158 L462,230 L495,230 C492,330 430,420 330,432 C230,440 150,395 125,320 Z" fill="#0077bb"/>
 <path d="M125,330 C118,200 230,105 340,120 C400,130 412,200 405,262 L428,262 L350,328 L287,262 L310,262 C312,215 282,190 240,192 C180,196 138,252 128,320" fill="#fff" stroke="#0077bb" stroke-width="6"/>
 <circle cx="350" cy="385" r="50" fill="#f39200"/>
 <text x="150" y="348" font-size="62" font-style="italic" font-weight="bold" textLength="150" lengthAdjust="spacingAndGlyphs">INPE</text>
</g>

<!-- colorbar -->
<polygon points="2011,325 2034.5,229 2058,325" fill="#013e33"/>
<polygon points="2011,2227 2034.5,2322 2058,2227" fill="#543005"/>
<rect x="2011" y="324" width="47" height="1904" fill="url(#cb)"/>
<polygon points="2011,325 2034.5,229 2058,325 2058,2227 2034.5,2322 2011,2227" fill="none" stroke="#000" stroke-width="3"/>
<g stroke="#000" stroke-width="2">
<line x1="2058" y1="325" x2="2073" y2="325"/>
<line x1="2058" y1="542.1" x2="2073" y2="542.1"/>
<line x1="2058" y1="782.8" x2="2073" y2="782.8"/>
<line x1="2058" y1="1023.5" x2="2073" y2="1023.5"/>
<line x1="2058" y1="1264.2" x2="2073" y2="1264.2"/>
<line x1="2058" y1="1504.9" x2="2073" y2="1504.9"/>
<line x1="2058" y1="1745.6" x2="2073" y2="1745.6"/>
<line x1="2058" y1="1986.3" x2="2073" y2="1986.3"/>
<line x1="2058" y1="2227" x2="2073" y2="2227"/>
</g>
<g font-size="50">
<text x="2087" y="343">4</text>
<text x="2087" y="560">3</text>
<text x="2087" y="801">2</text>
<text x="2087" y="1041">1</text>
<text x="2087" y="1282">0</text>
<text x="2087" y="1523">-1</text>
<text x="2087" y="1764">-2</text>
<text x="2087" y="2004">-3</text>
<text x="2087" y="2245">-4</text>
</g>
</svg>
</body></html>
